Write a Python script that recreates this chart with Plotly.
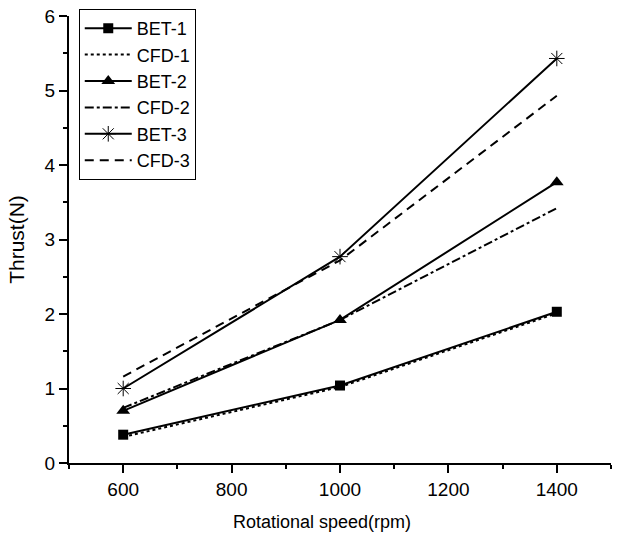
import plotly.graph_objects as go

speed = [600, 1000, 1400]
bet1 = [0.38, 1.04, 2.03]
cfd1 = [0.35, 1.02, 2.01]
bet2 = [0.70, 1.92, 3.77]
cfd2 = [0.74, 1.92, 3.42]
bet3 = [1.00, 2.77, 5.43]
cfd3 = [1.16, 2.72, 4.93]

FONT = "Liberation Sans, Arial, sans-serif"
fig = go.Figure()

fig.add_trace(go.Scatter(x=speed, y=bet1, name="BET-1", mode="lines+markers",
                         line=dict(color="black", width=2),
                         marker=dict(symbol="square", size=10, color="black")))
fig.add_trace(go.Scatter(x=speed, y=cfd1, name="CFD-1", mode="lines",
                         line=dict(color="black", width=2, dash="dot")))
fig.add_trace(go.Scatter(x=speed, y=bet2, name="BET-2", mode="lines+markers",
                         line=dict(color="black", width=2),
                         marker=dict(symbol="triangle-up", size=12, color="black")))
fig.add_trace(go.Scatter(x=speed, y=cfd2, name="CFD-2", mode="lines",
                         line=dict(color="black", width=2, dash="dashdot")))
fig.add_trace(go.Scatter(x=speed, y=bet3, name="BET-3", mode="lines+markers",
                         line=dict(color="black", width=2),
                         marker=dict(symbol="asterisk-open", size=13, color="black",
                                     line=dict(color="black", width=1))))
fig.add_trace(go.Scatter(x=speed, y=cfd3, name="CFD-3", mode="lines",
                         line=dict(color="black", width=2, dash="9px,6px")))

axis_common = dict(showline=True, linecolor="black", linewidth=2, showgrid=False,
                   zeroline=False, ticks="outside", ticklen=8, tickwidth=2,
                   tickcolor="black", mirror=False, automargin=False,
                   tickfont=dict(family=FONT, size=19, color="black"))

fig.update_xaxes(range=[500, 1500], tickvals=[600, 800, 1000, 1200, 1400],
                 minor=dict(ticks="outside", ticklen=4, tickwidth=2, tickcolor="black", dtick=100, tick0=500),
                 **axis_common)
fig.update_yaxes(range=[0, 6], dtick=1, domain=[0, 447 / 454],
                 minor=dict(ticks="outside", ticklen=4, tickwidth=2, tickcolor="black", dtick=0.5),
                 title=dict(text="Thrust(N)", font=dict(family=FONT, size=21, color="black"),
                            standoff=14),
                 **axis_common)

fig.add_annotation(text="Rotational speed(rpm)", xref="paper", yref="paper",
                   x=(322 - 69) / 542, y=-(522 - 463) / 454, xanchor="center", yanchor="middle",
                   showarrow=False, font=dict(family=FONT, size=18, color="black"))

fig.update_layout(
    width=622, height=545,
    margin=dict(l=69, r=11, t=9, b=82, autoexpand=False),
    paper_bgcolor="white", plot_bgcolor="white",
    showlegend=True,
    legend=dict(x=0.018, y=1.0, xanchor="left", yanchor="top",
                bgcolor="white", bordercolor="black", borderwidth=1,
                font=dict(family=FONT, size=18, color="black"),
                itemwidth=47, tracegroupgap=0),
)

fig.write_html("out.html")
